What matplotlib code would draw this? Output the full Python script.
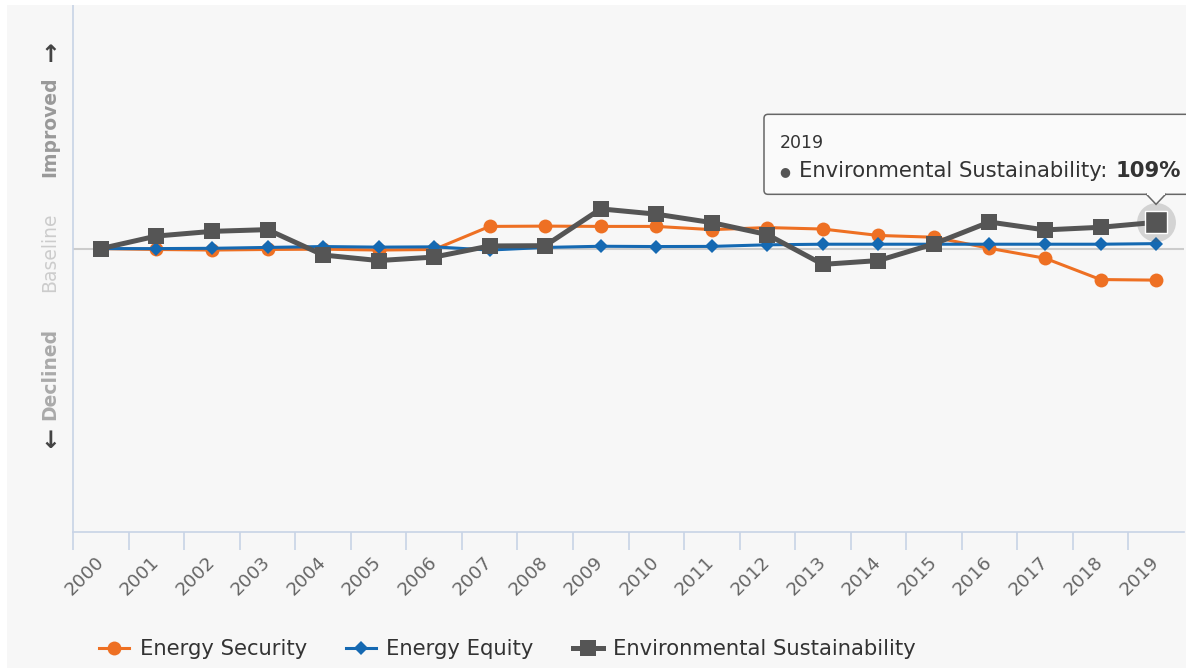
import matplotlib
matplotlib.use('Agg')
import matplotlib.pyplot as plt
from matplotlib.patches import FancyBboxPatch, Polygon, Rectangle

# ---------------- data ----------------
years = [str(y) for y in range(2000, 2020)]
energy_security = [100.0, 99.7, 99.5, 99.7, 99.8, 99.5, 99.7, 107.6, 107.7, 107.6,
                   107.6, 106.5, 107.2, 106.7, 104.5, 103.9, 100.1, 96.7, 89.4, 89.2]
energy_equity = [100.0, 100.0, 100.1, 100.4, 100.7, 100.5, 100.6, 99.5, 100.4, 100.8,
                 100.7, 100.75, 101.3, 101.5, 101.5, 101.5, 101.5, 101.5, 101.5, 101.7]
env_sustainability = [100.0, 104.3, 105.9, 106.5, 97.8, 95.9, 97.1, 100.9, 101.0, 113.6,
                      111.8, 108.9, 104.8, 94.6, 95.9, 101.6, 109.1, 106.4, 107.3, 109.0]
series_names = ['Energy Security', 'Energy Equity', 'Environmental Sustainability']
tooltip_year = '2019'
tooltip_value_label = '109%'

ORANGE = '#ee7023'
BLUE = '#1569b2'
GRAY = '#555555'
AXIS = '#c8d3e6'
BG = '#f7f7f7'

W, H = 1186, 668
fig = plt.figure(figsize=(W / 100, H / 100), dpi=100)
fig.patch.set_facecolor(BG)

ax = fig.add_axes([73.2 / W, (H - 531.5) / H, 1110.6 / W, 526.1 / H])
ax.set_facecolor(BG)
x = list(range(len(years)))

ax.axhline(100, color='#cccccc', lw=1.5, zorder=1)
ax.plot(x, energy_security, color=ORANGE, lw=2.2, marker='o', ms=10, mew=0,
        zorder=3, label=series_names[0])
ax.plot(x, energy_equity, color=BLUE, lw=2.2, marker='D', ms=7.2, mew=0,
        zorder=4, label=series_names[1])
ax.plot(x, env_sustainability, color=GRAY, lw=3.6, marker='s', ms=11, mew=0,
        zorder=5, label=series_names[2])

# hovered point highlight
i = years.index(tooltip_year)
ax.plot([x[i]], [env_sustainability[i]], marker='o', ms=28, color=GRAY, alpha=0.22,
        mew=0, ls='none', zorder=5.5)
ax.plot([x[i]], [env_sustainability[i]], marker='s', ms=16, mfc=GRAY, mec='white',
        mew=1.0, ls='none', zorder=6)

ax.set_xlim(-0.5, len(years) - 0.5)
ax.set_ylim(3.1, 183.3)

for s in ['top', 'right']:
    ax.spines[s].set_visible(False)
for s in ['left', 'bottom']:
    ax.spines[s].set_color(AXIS)
    ax.spines[s].set_linewidth(1.2)
ax.set_yticks([])

ax.set_xticks(x)
ax.set_xticklabels(years, rotation=45, ha='right', va='center',
                   rotation_mode='anchor', fontsize=13.2, color='#666666')
ax.tick_params(axis='x', which='major', length=0, pad=20)
ax.set_xticks([k - 0.5 for k in range(len(years))], minor=True)
ax.tick_params(axis='x', which='minor', length=13, color=AXIS, width=1.2)

# y-axis descriptive labels
def fy(py):
    return 1 - py / H

fig.text(50 / W, fy(127), 'Improved', rotation=90, ha='center', va='center',
         fontsize=13.5, fontweight='bold', color='#999999')
fig.text(50 / W, fy(55), '↑', ha='center', va='center',
         fontsize=17, fontweight='bold', color='#444444')
fig.text(50 / W, fy(252), 'Baseline', rotation=90, ha='center', va='center',
         fontsize=13.5, color='#cccccc')
fig.text(50 / W, fy(374), 'Declined', rotation=90, ha='center', va='center',
         fontsize=13.5, fontweight='bold', color='#aaaaaa')
fig.text(50 / W, fy(441), '↓', ha='center', va='center',
         fontsize=17, fontweight='bold', color='#444444')

# legend
handles, labels = ax.get_legend_handles_labels()
leg = fig.legend(handles, labels, loc='center left', bbox_to_anchor=(99 / W, fy(649)),
                 ncol=3, frameon=False, fontsize=15.2, handlelength=1.42,
                 handletextpad=0.5, columnspacing=1.85, borderpad=0, borderaxespad=0)
for t in leg.get_texts():
    t.set_color('#333333')

# overlay in pixel coordinates for tooltip
ov = fig.add_axes([0, 0, 1, 1], zorder=10)
ov.set_xlim(0, W)
ov.set_ylim(H, 0)
ov.axis('off')
ov.patch.set_alpha(0)

# white screenshot edges
ov.add_patch(Rectangle((0, 0), W, 5, fc='white', ec='none'))
ov.add_patch(Rectangle((0, 0), 7, H, fc='white', ec='none'))

# anchor tooltip pointer to the data point
fig.canvas.draw()
px, py_disp = ax.transData.transform((x[i], env_sustainability[i]))
ptx, pty = px, H - py_disp
apex_y = pty - 18
box_bottom = apex_y - 10
box_top = box_bottom - 80
box_left = 764
box = FancyBboxPatch((box_left, box_top), 460, box_bottom - box_top,
                     boxstyle='round,pad=0,rounding_size=4',
                     fc='#fafafa', ec='#666666', lw=1.1, zorder=1)
ov.add_patch(box)
ov.add_patch(Polygon([(ptx - 10, box_bottom - 0.5), (ptx, apex_y), (ptx + 10, box_bottom - 0.5)],
                     closed=False, fc='#fafafa', ec='#666666', lw=1.1, zorder=2))
ov.add_patch(Rectangle((ptx - 9, box_bottom - 2), 18, 2.2, fc='#fafafa', ec='none', zorder=3))

ov.text(780, box_top + 29, tooltip_year, fontsize=12.5, color='#333333',
        ha='left', va='center', zorder=4)
ov.text(785, box_top + 57, '●', fontsize=9, color=GRAY, ha='center', va='center', zorder=4)
t1 = ov.text(799, box_top + 57, series_names[2] + ': ', fontsize=15.2, color='#333333',
             ha='left', va='center', zorder=4)
r = fig.canvas.get_renderer()
bb = t1.get_window_extent(renderer=r)
ov.text(bb.x1 + 1, box_top + 57, tooltip_value_label, fontsize=15.2, fontweight='bold',
        color='#333333', ha='left', va='center', zorder=4)

fig.savefig('out.png', dpi=100, facecolor=fig.get_facecolor())
